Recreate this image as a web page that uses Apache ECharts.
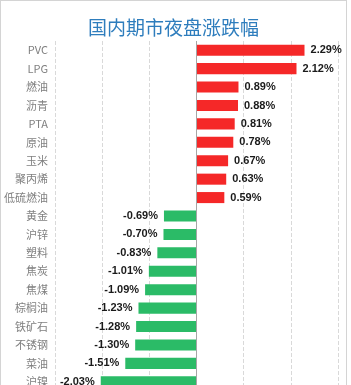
<!DOCTYPE html>
<html>
<head>
<meta charset="utf-8">
<script src="https://cdn.jsdelivr.net/npm/echarts@6/dist/echarts.min.js"></script>
<style>
  html, body { margin: 0; padding: 0; background: #fff; overflow: hidden; }
  #chart { width: 345px; height: 394px; border: 1px solid #d4d4d4; border-bottom: none; }
</style>
</head>
<body>
<div id="chart"></div>
<script>
// 品种与涨跌幅(%)
const names = ["PVC", "LPG", "燃油", "沥青", "PTA", "原油", "玉米", "聚丙烯", "低硫燃油",
  "黄金", "沪锌", "塑料", "焦炭", "焦煤", "棕榈油", "铁矿石", "不锈钢", "菜油", "沪镍"];
const changes = [2.29, 2.12, 0.89, 0.88, 0.81, 0.78, 0.67, 0.63, 0.59,
  -0.69, -0.70, -0.83, -1.01, -1.09, -1.23, -1.28, -1.30, -1.51, -2.03];

const myChart = echarts.init(document.getElementById("chart"));

// 图表比视窗略高,底部一行被截掉一部分,与原图一致
const option = {
  animation: false,
  title: {
    text: "国内期市夜盘涨跌幅",
    left: "center",
    top: 12,
    textStyle: {
      color: "#2e7dbd",
      fontSize: 19,
      fontWeight: "normal",
      fontFamily: "Noto Sans CJK SC",
    },
  },
  grid: { left: 54, right: 8, top: 40, bottom: 4 },
  xAxis: {
    type: "value",
    min: -3,
    max: 3,
    interval: 1,
    axisLabel: { show: false },
    axisLine: { show: false },
    axisTick: { show: false },
    splitLine: { lineStyle: { color: "#d9d9d9", type: "dashed" } },
  },
  yAxis: {
    type: "category",
    inverse: true,
    data: names,
    axisLine: { show: false, onZero: false },
    axisTick: { show: false },
    axisLabel: {
      color: "#808080",
      fontSize: 11,
      margin: 7,
      fontFamily: "Noto Sans CJK SC",
    },
  },
  series: [
    {
      type: "bar",
      barWidth: "60%",
      data: changes.map((v) => ({
        value: v,
        itemStyle: { color: v >= 0 ? "#f52828" : "#2bbb67" },
        label: { position: v >= 0 ? "right" : "left" },
      })),
      label: {
        show: true,
        formatter: (p) => p.value.toFixed(2) + "%",
        color: "#1a1a1a",
        fontSize: 11,
        fontWeight: "bold",
        fontFamily: "Liberation Sans",
        distance: 6,
      },
      markLine: {
        silent: true,
        symbol: "none",
        label: { show: false },
        lineStyle: { color: "#a6a6a6", type: "solid", width: 1 },
        data: [{ xAxis: 0 }],
      },
    },
  ],
};

myChart.setOption(option);
</script>
</body>
</html>
